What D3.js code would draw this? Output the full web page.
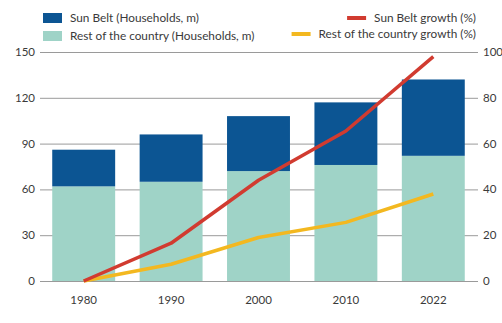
<!DOCTYPE html>
<html>
<head>
<meta charset="utf-8">
<script src="https://cdn.jsdelivr.net/npm/d3@7"></script>
<style>
  html, body { margin: 0; padding: 0; background: #fff; }
  svg text { font-family: Lato, "Noto Sans", sans-serif; fill: #3a3a3a; }
</style>
</head>
<body>
<svg id="chart" width="502" height="323"></svg>
<script>
// Households (millions) and cumulative growth since 1980 (%)
const years = ["1980", "1990", "2000", "2010", "2022"];
const sunBeltHouseholds = [24, 31, 36, 41, 50];
const restHouseholds = [62, 65, 72, 76, 82];
const sunBeltGrowth = [0, 16.5, 44, 65.5, 98];
const restGrowth = [0, 7.3, 19, 25.6, 38];
const leftTicks = [0, 30, 60, 90, 120, 150];
const rightTicks = [0, 20, 40, 60, 80, 100];

const colors = {
  sunBelt: "#0c5593",
  rest: "#9fd3c7",
  sunBeltLine: "#d13b30",
  restLine: "#f3b820",
  grid: "#9a9a9a"
};

const svg = d3.select("#chart");
const plot = { left: 40, right: 477, top: 52, bottom: 281 };

const x = d3.scaleBand().domain(years).range([plot.left, plot.right]).paddingInner(0.28).paddingOuter(0.14);
const yL = d3.scaleLinear().domain([0, 150]).range([plot.bottom, plot.top]);
const yR = d3.scaleLinear().domain([0, 100]).range([plot.bottom, plot.top]);

// gridlines
svg.append("g").selectAll("line").data(leftTicks).join("line")
  .attr("x1", plot.left).attr("x2", plot.right + 1)
  .attr("y1", d => yL(d) + 0.5).attr("y2", d => yL(d) + 0.5)
  .attr("stroke", colors.grid).attr("stroke-width", 1);

// left axis labels
svg.append("g").selectAll("text").data(leftTicks).join("text")
  .attr("x", 35).attr("y", d => yL(d)).attr("dy", "0.35em")
  .attr("text-anchor", "end").attr("font-size", 11.5)
  .text(d => d);

// right axis labels
svg.append("g").selectAll("text").data(rightTicks).join("text")
  .attr("x", 483).attr("y", d => yR(d)).attr("dy", "0.35em")
  .attr("text-anchor", "start").attr("font-size", 11.5)
  .text(d => d);

// x labels
svg.append("g").selectAll("text").data(years).join("text")
  .attr("x", d => x(d) + x.bandwidth() / 2).attr("y", 300).attr("dy", "0.35em")
  .attr("text-anchor", "middle").attr("font-size", 11.5)
  .text(d => d);

// stacked bars
const stackData = years.map((yr, i) => ({ year: yr, rest: restHouseholds[i], sunBelt: sunBeltHouseholds[i] }));
const stack = d3.stack().keys(["rest", "sunBelt"])(stackData);
svg.append("g").selectAll("g").data(stack).join("g")
  .attr("fill", d => colors[d.key])
  .selectAll("rect").data(d => d).join("rect")
  .attr("x", d => x(d.data.year))
  .attr("width", x.bandwidth())
  .attr("y", d => yL(d[1]))
  .attr("height", d => yL(d[0]) - yL(d[1]));

// growth lines
const line = d3.line()
  .x((d, i) => x(years[i]) + x.bandwidth() / 2)
  .y(d => yR(d))
  .curve(d3.curveLinear);

svg.append("path").datum(restGrowth)
  .attr("fill", "none").attr("stroke", colors.restLine).attr("stroke-width", 3.5)
  .attr("stroke-linejoin", "round")
  .attr("d", line);
svg.append("path").datum(sunBeltGrowth)
  .attr("fill", "none").attr("stroke", colors.sunBeltLine).attr("stroke-width", 3.5)
  .attr("stroke-linejoin", "round")
  .attr("d", line);

// legend
const legLeft = [
  { label: "Sun Belt (Households, m)", color: colors.sunBelt, y: 18 },
  { label: "Rest of the country (Households, m)", color: colors.rest, y: 36 }
];
const lg = svg.append("g");
lg.selectAll("rect").data(legLeft).join("rect")
  .attr("x", 43).attr("y", d => d.y - 5).attr("width", 19).attr("height", 10)
  .attr("fill", d => d.color);
lg.selectAll("text").data(legLeft).join("text")
  .attr("x", 70).attr("y", d => d.y).attr("dy", "0.35em")
  .attr("font-size", 11.8).text(d => d.label);

const legRight = [
  { label: "Sun Belt growth (%)", color: colors.sunBeltLine, y: 18 },
  { label: "Rest of the country growth (%)", color: colors.restLine, y: 34 }
];
const rg = svg.append("g");
const rText = rg.selectAll("text").data(legRight).join("text")
  .attr("x", 476).attr("y", d => d.y).attr("dy", "0.35em")
  .attr("text-anchor", "end").attr("font-size", 11.8).text(d => d.label);
rText.each(function(d) {
  const w = this.getComputedTextLength();
  rg.append("rect")
    .attr("x", 476 - w - 27).attr("y", d.y - 2)
    .attr("width", 19).attr("height", 4)
    .attr("fill", d.color);
});
</script>
</body>
</html>
